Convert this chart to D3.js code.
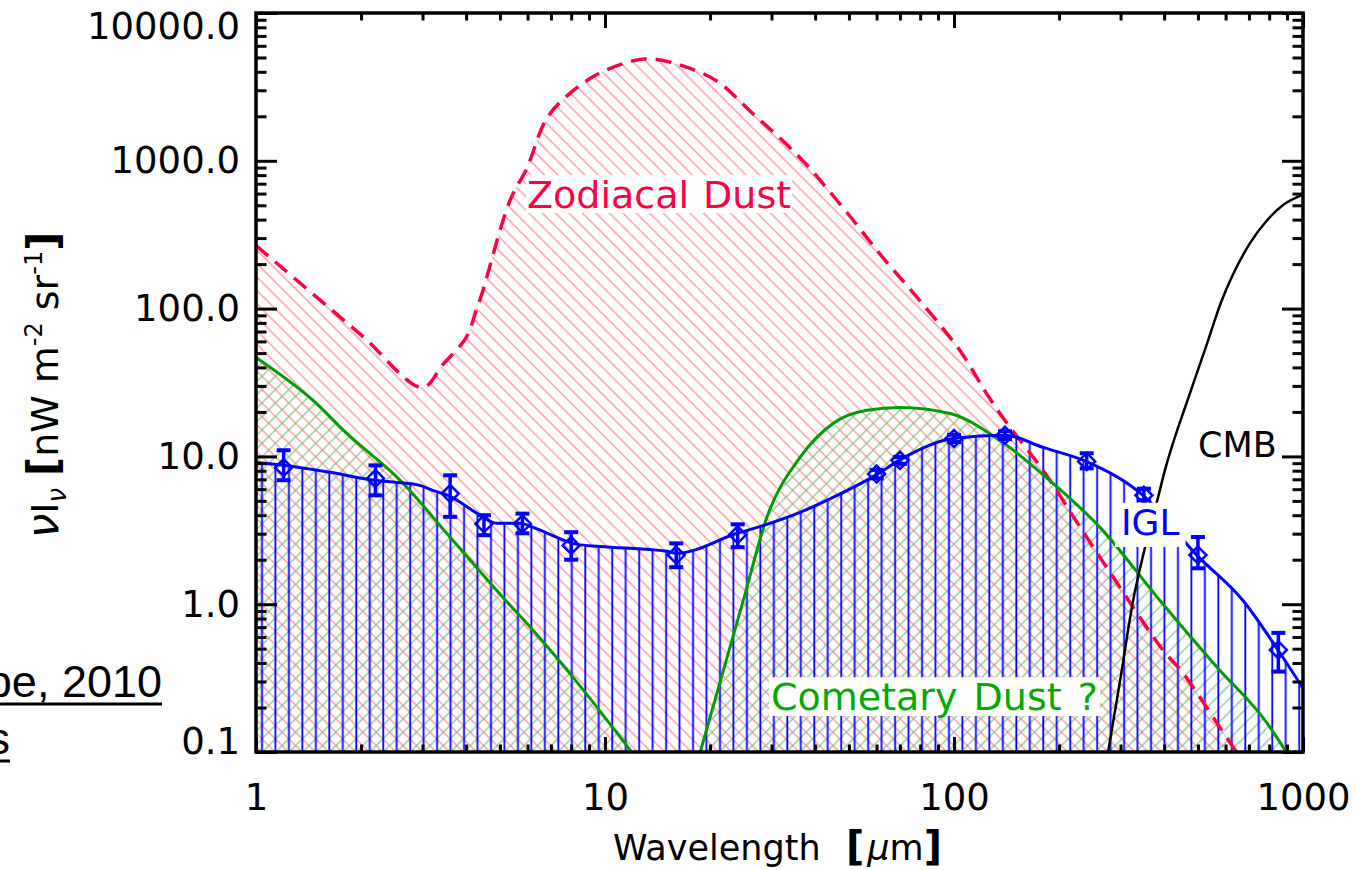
<!DOCTYPE html>
<html>
<head>
<meta charset="utf-8">
<script src="https://cdn.jsdelivr.net/npm/d3@7"></script>
<style>
  html, body { margin: 0; padding: 0; background: #fff; }
  svg { display: block; }
</style>
</head>
<body>
<svg id="chart" width="1356" height="870"></svg>
<script>
// ---- axis ticks ----
const xMajorTicks = [1, 10, 100, 1000];
const xTickLabels = ["1", "10", "100", "1000"];
const yMajorTicks = [0.1, 1, 10, 100, 1000, 10000];
const yTickLabels = ["0.1", "1.0", "10.0", "100.0", "1000.0", "10000.0"];

// ---- zodiacal dust emission (wavelength [um], nuI_nu [nW m^-2 sr^-1]) ----
const zodiWave = [1.0, 2.0, 3.0, 3.43, 4.0, 4.3, 4.44, 5.34, 5.98, 6.82, 8.09, 9.68, 12.0, 13.7, 16.7, 20.9, 26.0, 36.2, 48.1, 62.6, 79.9, 104, 124, 142, 180, 230, 286, 397, 453, 567, 648];
const zodiFlux = [267, 66.4, 29.3, 41.8, 63.7, 101.6, 126, 537, 897, 1950, 2970, 3935, 4740, 4890, 4385, 3470, 2180, 1050, 481, 221, 113, 52, 26.6, 16.7, 8.04, 3.31, 1.52, 0.489, 0.342, 0.157, 0.098];

// ---- cometary dust, near-IR branch ----
const cometWaveA = [1.0, 1.457, 1.82, 2.59, 3.6, 5.10, 6.22, 8.09, 12.0];
const cometFluxA = [46.7, 23.9, 14.3, 6.88, 2.84, 1.11, 0.667, 0.321, 0.098];

// ---- cometary dust, far-IR branch ----
const cometWaveB = [18.7, 24.9, 29.1, 36.2, 45.0, 56.3, 70.0, 97.4, 135.5, 188, 262, 389, 567, 789, 900];
const cometFluxB = [0.098, 1.06, 3.87, 9.85, 16.7, 20.5, 21.4, 19.5, 12.8, 6.88, 3.31, 1.06, 0.375, 0.157, 0.098];

// ---- integrated galaxy light model ----
const iglModelWave = [1.0, 1.2, 1.63, 2.21, 2.54, 2.95, 3.21, 3.6, 4.3, 4.9, 5.71, 6.22, 8.31, 9.68, 15.05, 16.0, 23.9, 29.1, 36.2, 45.0, 60.2, 69.6, 99.4, 140, 180, 239, 348, 497, 673, 848, 1000];
const iglModelFlux = [9.1, 8.7, 7.8, 6.88, 6.67, 6.37, 5.89, 5.37, 4.12, 3.53, 3.53, 3.31, 2.54, 2.46, 2.28, 2.21, 3.02, 3.47, 4.18, 5.28, 7.56, 9.4, 13.2, 13.9, 11.5, 9.25, 5.45, 2.14, 1.06, 0.49, 0.27];

// ---- IGL measurements with error ranges ----
const iglWave = [1.2, 2.2, 3.6, 4.5, 5.8, 8.0, 16, 24, 60, 70, 100, 140, 240, 350, 500, 850];
const iglFlux = [8.4, 7.1, 5.6, 3.5, 3.5, 2.5, 2.15, 2.95, 7.6, 9.4, 13.2, 13.9, 9.25, 5.45, 2.15, 0.49];
const iglLow  = [6.9, 5.45, 3.9, 2.93, 3.02, 2.0, 1.78, 2.43, 7.1, 8.9, 12.5, 13.1, 8.3, 5.05, 1.75, 0.35];
const iglHigh = [11.0, 8.7, 7.45, 4.0, 4.1, 3.07, 2.58, 3.47, 8.1, 9.9, 14.0, 14.8, 10.5, 6.05, 2.85, 0.64];

// ---- cosmic microwave background ----
const cmbWave = [276, 300, 326, 350, 382, 402, 475, 531, 582, 630, 705, 789, 877, 1000];
const cmbFlux = [0.098, 0.316, 1.06, 2.25, 5.0, 8.04, 27, 58, 110, 170, 277, 396, 502, 590];

// ---- colours ----
const RED = "#ff0040", GREEN = "#009c00", GREEN_TXT = "#00aa00", BLUE = "#0000ff";

const svg = d3.select("#chart");
const x = d3.scaleLog().domain([1, 1000]).range([256, 1303]);
const y = d3.scaleLog().domain([0.1, 10000]).range([752, 13]);
const [px0, px1] = x.range();
const [py0, py1] = y.range();

const defs = svg.append("defs");
defs.append("clipPath").attr("id", "plotClip")
  .append("rect").attr("x", px0).attr("y", py1).attr("width", px1 - px0).attr("height", py0 - py1);

function hatch(id, spacing, angle, color, width, offset) {
  const p = defs.append("pattern").attr("id", id)
    .attr("patternUnits", "userSpaceOnUse")
    .attr("width", spacing).attr("height", 20)
    .attr("patternTransform", `rotate(${angle})`);
  p.append("line").attr("x1", offset).attr("x2", offset).attr("y1", -2).attr("y2", 22)
    .attr("stroke", color).attr("stroke-width", width);
}
hatch("hRed", 9.5, -45, "#ff7f88", 1.15, 4.75);
hatch("hGreen", 9.5, 45, "#72bd72", 1.1, 4.75);
hatch("hBlue", 13.47, 0, BLUE, 1.8, 6.07);

const pairs = (ws, vs) => ws.map((w, i) => [w, vs[i]]);
const zodi = pairs(zodiWave, zodiFlux);
const cometA = pairs(cometWaveA, cometFluxA);
const cometB = pairs(cometWaveB, cometFluxB);
const iglModel = pairs(iglModelWave, iglModelFlux);
const cmb = pairs(cmbWave, cmbFlux);

const plot = svg.append("g").attr("clip-path", "url(#plotClip)");

function areaGen(curve) {
  return d3.area().x(d => x(d[0])).y0(py0 + 6).y1(d => y(d[1])).curve(curve);
}
function lineGen(curve) {
  return d3.line().x(d => x(d[0])).y(d => y(d[1])).curve(curve);
}
const smooth = d3.curveCatmullRom.alpha(0.5);
const mono = d3.curveMonotoneX;

// hatched regions
plot.append("path").attr("d", areaGen(smooth)(zodi)).attr("fill", "url(#hRed)");
plot.append("path").attr("d", areaGen(mono)(cometA)).attr("fill", "url(#hGreen)");
plot.append("path").attr("d", areaGen(mono)(cometB)).attr("fill", "url(#hGreen)");
plot.append("path").attr("d", areaGen(mono)(iglModel)).attr("fill", "url(#hBlue)");

// curves
plot.append("path").attr("d", lineGen(smooth)(zodi))
  .attr("fill", "none").attr("stroke", RED).attr("stroke-width", 3.5).attr("stroke-dasharray", "16,9");
plot.append("path").attr("d", lineGen(mono)(cometA))
  .attr("fill", "none").attr("stroke", GREEN).attr("stroke-width", 3);
plot.append("path").attr("d", lineGen(mono)(cometB))
  .attr("fill", "none").attr("stroke", GREEN).attr("stroke-width", 3);
plot.append("path").attr("d", lineGen(mono)(cmb))
  .attr("fill", "none").attr("stroke", "#000").attr("stroke-width", 2.5);
plot.append("path").attr("d", lineGen(mono)(iglModel))
  .attr("fill", "none").attr("stroke", BLUE).attr("stroke-width", 3);

// IGL data: diamonds with error bars
const pts = plot.append("g").attr("stroke", BLUE).attr("fill", "none");
iglWave.forEach((w, i) => {
  const cx = x(w), cy = y(iglFlux[i]);
  const yl = y(iglLow[i]), yh = y(iglHigh[i]);
  pts.append("line").attr("x1", cx).attr("x2", cx).attr("y1", yl).attr("y2", yh).attr("stroke-width", 3.5);
  [yl, yh].forEach(yy => pts.append("line").attr("x1", cx - 7).attr("x2", cx + 7)
    .attr("y1", yy).attr("y2", yy).attr("stroke-width", 4));
  const r = 8.5;
  pts.append("path").attr("d", `M${cx},${cy - r}L${cx + r},${cy}L${cx},${cy + r}L${cx - r},${cy}Z`)
    .attr("stroke-width", 2.5);
});

// labels with white backing
function boxedLabel(text, lx, ly, color, size, padX, padTop, padBottom, wordSpacing) {
  const g = svg.append("g");
  const rect = g.append("rect").attr("fill", "#fff");
  const t = g.append("text").attr("x", lx).attr("y", ly)
    .attr("font-family", "DejaVu Sans").attr("font-size", size)
    .attr("fill", color).attr("word-spacing", wordSpacing || 0).text(text);
  const b = t.node().getBBox();
  const capTop = ly - size * 0.73;
  rect.attr("x", b.x - padX).attr("width", b.width + 2 * padX)
    .attr("y", capTop - padTop).attr("height", ly - capTop + padTop + padBottom);
  return g;
}
boxedLabel("Zodiacal Dust", 527, 208, RED, 38, 1, 5, 5, 2);
boxedLabel("Cometary Dust ?", 771, 710, GREEN_TXT, 38, 2, 5, 6, 4);
boxedLabel("IGL", 1121, 535, BLUE, 36, 6, 6, 12, 0);

svg.append("text").attr("x", 1198).attr("y", 457)
  .attr("font-family", "DejaVu Sans").attr("font-size", 35).attr("fill", "#000").text("CMB");

// ---- axes ----
const minorXT = x.ticks().filter(v => !xMajorTicks.includes(v));
const minorYT = y.ticks().filter(v => !yMajorTicks.some(m => Math.abs(m - v) / m < 1e-6));
const fontAxis = "DejaVu Sans";

function styleAxis(g) {
  g.select(".domain").remove();
  g.selectAll(".tick line").attr("stroke", "#000").attr("stroke-width", 3);
  g.selectAll(".tick text").attr("font-family", fontAxis).attr("font-size", 37).attr("fill", "#000");
}

const bottom = svg.append("g").attr("transform", `translate(0,${py0})`)
  .call(d3.axisBottom(x).tickValues(xMajorTicks).tickSizeInner(-15).tickSizeOuter(0).tickPadding(32)
    .tickFormat((d, i) => xTickLabels[i]));
styleAxis(bottom);
svg.append("g").attr("transform", `translate(0,${py0})`)
  .call(d3.axisBottom(x).tickValues(minorXT).tickSizeInner(-7.5).tickSizeOuter(0).tickFormat(""))
  .call(styleAxis);
svg.append("g").attr("transform", `translate(0,${py1})`)
  .call(d3.axisTop(x).tickValues(xMajorTicks).tickSizeInner(-15).tickSizeOuter(0).tickFormat(""))
  .call(styleAxis);
svg.append("g").attr("transform", `translate(0,${py1})`)
  .call(d3.axisTop(x).tickValues(minorXT).tickSizeInner(-7.5).tickSizeOuter(0).tickFormat(""))
  .call(styleAxis);

const left = svg.append("g").attr("transform", `translate(${px0},0)`)
  .call(d3.axisLeft(y).tickValues(yMajorTicks).tickSizeInner(-21).tickSizeOuter(0).tickPadding(16)
    .tickFormat((d, i) => yTickLabels[i]));
styleAxis(left);
left.selectAll(".tick text").filter(d => d === 10000).attr("transform", "translate(0,14)");
left.selectAll(".tick text").filter(d => d === 0.1).attr("transform", "translate(0,-10)");
svg.append("g").attr("transform", `translate(${px0},0)`)
  .call(d3.axisLeft(y).tickValues(minorYT).tickSizeInner(-10.5).tickSizeOuter(0).tickFormat(""))
  .call(styleAxis);
svg.append("g").attr("transform", `translate(${px1},0)`)
  .call(d3.axisRight(y).tickValues(yMajorTicks).tickSizeInner(-21).tickSizeOuter(0).tickFormat(""))
  .call(styleAxis);
svg.append("g").attr("transform", `translate(${px1},0)`)
  .call(d3.axisRight(y).tickValues(minorYT).tickSizeInner(-10.5).tickSizeOuter(0).tickFormat(""))
  .call(styleAxis);

// frame
svg.append("rect").attr("x", px0).attr("y", py1).attr("width", px1 - px0).attr("height", py0 - py1)
  .attr("fill", "none").attr("stroke", "#000").attr("stroke-width", 3.5);

// axis titles
const xt = svg.append("text").attr("x", 613).attr("y", 860)
  .attr("font-family", fontAxis).attr("font-size", 35).attr("fill", "#000");
xt.append("tspan").text("Wavelength");
xt.append("tspan").attr("x", 846).attr("font-weight", "bold").attr("font-size", 40).text("[");
xt.append("tspan").attr("dx", 3).attr("font-style", "italic").text("μ");
xt.append("tspan").text("m");
xt.append("tspan").attr("font-weight", "bold").attr("font-size", 40).text("]");

const yt = svg.append("text").attr("transform", "translate(58,385) rotate(-90)")
  .attr("text-anchor", "middle")
  .attr("font-family", fontAxis).attr("font-size", 38).attr("fill", "#000");
yt.append("tspan").attr("font-style", "italic").attr("font-size", 44).text("ν");
yt.append("tspan").text("I");
yt.append("tspan").attr("font-style", "italic").attr("font-size", 26).attr("dy", 8).text("ν");
yt.append("tspan").attr("dy", -8).attr("dx", 12).attr("font-weight", "bold").attr("font-size", 42).text("[");
yt.append("tspan").text("nW");
yt.append("tspan").attr("dx", 12).text("m");
yt.append("tspan").attr("font-size", 24).attr("dy", -16).text("-2");
yt.append("tspan").attr("dy", 16).attr("dx", 12).text("sr");
yt.append("tspan").attr("font-size", 24).attr("dy", -16).text("-1");
yt.append("tspan").attr("dy", 16).attr("font-weight", "bold").attr("font-size", 42).text("]");

// reference note at the left margin (runs off the page edge)
const note = svg.append("g").attr("font-family", "Liberation Sans, Arial, sans-serif").attr("font-size", 45).attr("fill", "#000");
[["pe, 2010", 162, 697], ["s", 10, 754]].forEach(([s, ex, by]) => {
  const t = note.append("text").attr("x", ex).attr("y", by).attr("text-anchor", "end").text(s);
  const b = t.node().getBBox();
  note.append("line").attr("x1", Math.min(0, b.x)).attr("x2", ex).attr("y1", by + 7).attr("y2", by + 7)
    .attr("stroke", "#000").attr("stroke-width", 3);
});
</script>
</body>
</html>
